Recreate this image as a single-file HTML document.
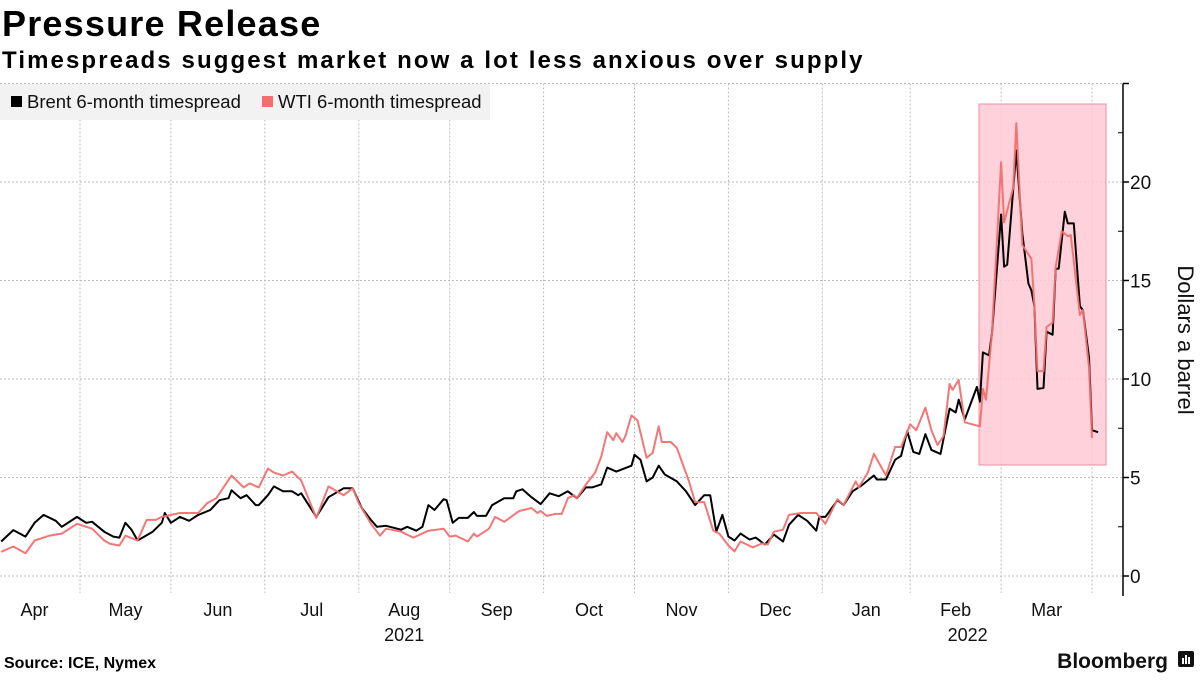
<!DOCTYPE html>
<html><head><meta charset="utf-8"><style>
body{margin:0;width:1200px;height:675px;background:#fff;overflow:hidden;font-family:"Liberation Sans",sans-serif;}
svg text{font-family:"Liberation Sans",sans-serif;}
</style></head><body>
<svg id="chart" width="1200" height="675" viewBox="0 0 1200 675" xmlns="http://www.w3.org/2000/svg">
<text x="2" y="36" font-size="36" font-weight="bold" fill="#000" letter-spacing="1.2">Pressure Release</text>
<text x="2" y="68" font-size="24" font-weight="bold" fill="#000" letter-spacing="2.1">Timespreads suggest market now a lot less anxious over supply</text>
<g id="grid"></g>
<rect x="979" y="104" width="127" height="361" fill="#ffc9d3" fill-opacity="0.85" stroke="#e8909e" stroke-width="1"/>
<g id="series"></g>
<g id="axes"></g>
<g>
<rect x="0" y="84" width="490" height="36" fill="#f2f2f2"/>
<rect x="11" y="96" width="11" height="11" fill="#000"/>
<text x="27" y="108" font-size="18.5" fill="#111">Brent 6-month timespread</text>
<rect x="262" y="96" width="11" height="11" fill="#f36f6f"/>
<text x="278" y="108" font-size="18.5" fill="#111">WTI 6-month timespread</text>
</g>
<text transform="translate(1178,340) rotate(90)" text-anchor="middle" font-size="22" fill="#111">Dollars a barrel</text>
<text x="4" y="668" font-size="16" font-weight="bold" fill="#000">Source: ICE, Nymex</text>
<text x="1168" y="668" text-anchor="end" font-size="21" font-weight="bold" fill="#111">Bloomberg</text>
<g>
<rect x="1178" y="651" width="16" height="16" rx="2" fill="#111"/>
<rect x="1182" y="658" width="2" height="6" fill="#fff"/><rect x="1185" y="655" width="2" height="9" fill="#fff"/><rect x="1188" y="657" width="2" height="7" fill="#fff"/>
</g>
</svg>
<script>
// days since 2021-05-01
const brentDays=[-26,-22,-18,-15,-12,-8,-6,-1,2,4,8,11,13,15,17,19,24,27,28,30,33,36,39,43,46,49,50,53,55,58,59,62,64,67,70,72,73,78,82,87,90,93,96,98,101,106,108,111,113,115,117,120,121,123,125,128,130,131,134,136,140,143,144,146,149,152,155,158,161,164,167,169,172,174,177,182,183,185,187,189,191,193,197,200,203,206,208,210,212,214,216,218,221,223,226,229,232,234,237,240,243,244,246,250,252,255,258,262,263,266,269,271,273,275,277,279,281,284,287,289,290,292,296,297,298,300,301,304,305,306,309,311,313,314,315,316,318,319,321,322,323,325,326,328,330,331,333,334,336];
const brentValues=[1.75,2.33,2.0,2.7,3.1,2.8,2.5,3.0,2.7,2.75,2.25,2.0,1.95,2.7,2.35,1.8,2.25,2.7,3.2,2.7,3.0,2.8,3.1,3.35,3.85,3.95,4.35,3.95,4.1,3.6,3.6,4.1,4.55,4.3,4.3,4.1,4.2,3.0,4.0,4.45,4.45,3.45,2.85,2.5,2.55,2.35,2.5,2.3,2.5,3.6,3.35,3.9,3.85,2.7,2.95,2.95,3.25,3.05,3.05,3.6,3.95,3.95,4.3,4.4,4.0,3.65,4.2,4.05,4.3,3.95,4.5,4.5,4.65,5.5,5.3,5.6,6.15,5.9,4.8,5.0,5.6,5.15,4.8,4.3,3.6,4.1,4.1,2.25,3.1,2.0,1.8,2.15,1.85,1.95,1.6,2.1,1.75,2.6,3.1,2.8,2.3,3.0,3.0,3.85,3.6,4.3,4.6,5.1,4.9,4.9,5.9,6.1,7.35,6.3,6.2,7.2,6.4,6.2,8.5,8.3,8.95,7.95,9.6,8.85,11.35,11.2,12.35,18.35,15.7,15.8,21.6,17.4,14.85,14.5,13.7,9.5,9.55,12.4,12.25,15.6,15.6,18.5,17.9,17.9,13.7,13.5,11.1,7.4,7.3];
const wtiDays=[-26,-22,-18,-15,-10,-6,-1,4,8,10,13,15,19,22,25,27,33,39,42,45,50,54,56,59,62,64,67,70,73,78,82,87,90,92,96,99,101,106,110,115,120,122,124,128,130,131,135,137,140,145,149,151,152,154,157,159,161,163,164,167,170,172,174,176,177,179,180,182,184,187,189,191,192,195,197,201,203,206,209,211,214,216,218,222,225,227,229,232,234,238,243,246,250,252,256,257,260,262,266,269,271,274,276,279,281,283,285,287,288,290,292,297,298,299,301,304,305,308,309,311,314,315,316,318,319,321,322,324,326,327,330,331,333,334];
const wtiValues=[1.23,1.5,1.15,1.8,2.05,2.15,2.65,2.4,1.8,1.63,1.55,2.05,1.8,2.85,2.85,3.0,3.2,3.2,3.7,3.95,5.1,4.5,4.7,4.5,5.45,5.25,5.1,5.3,4.85,2.95,4.55,4.1,4.45,3.7,2.65,2.05,2.4,2.25,1.95,2.3,2.4,2.0,2.05,1.75,2.15,2.0,2.4,3.0,2.75,3.3,3.45,3.2,3.3,3.05,3.15,3.15,3.95,4.1,3.95,4.65,5.25,6.05,7.3,6.9,7.25,6.8,7.1,8.15,7.9,6.0,6.25,7.6,6.8,6.8,6.5,4.8,3.75,3.75,2.3,2.15,1.55,1.25,1.75,1.45,1.65,1.6,2.25,2.35,3.1,3.2,3.2,2.65,3.9,3.6,4.8,4.5,5.25,6.2,5.1,6.55,6.55,7.7,7.4,8.55,7.4,6.65,7.1,9.75,9.45,9.95,7.8,7.6,9.5,8.95,12.35,21.0,17.95,19.7,22.98,16.8,16.1,13.7,10.4,10.4,12.65,12.85,15.7,17.5,17.25,17.3,13.25,13.5,10.6,7.0];
const yTicks=[0,5,10,15,20,25];
const yTickLabels=["0","5","10","15","20",""];
const monthLabels=["Apr","May","Jun","Jul","Aug","Sep","Oct","Nov","Dec","Jan","Feb","Mar"];
const monthStartDays=[-30,0,30,61,92,122,153,183,214,245,274,304,334];
const yearLabels=["2021","2022"];
const yearMonthIdx=[4,10];

const NS="http://www.w3.org/2000/svg";
const X=d=>80+d*3.03;
const Y=v=>576-v*19.7;
const AX=1123;
function mk(tag,attrs,parent){const e=document.createElementNS(NS,tag);for(const k in attrs)e.setAttribute(k,attrs[k]);parent.appendChild(e);return e;}
const grid=document.getElementById('grid'),axes=document.getElementById('axes'),series=document.getElementById('series');
yTicks.forEach((t,i)=>{
  const l=mk('line',{x1:0,x2:AX,y1:Y(t),y2:Y(t),stroke:'#bbb','stroke-width':1,'stroke-dasharray':'2,2'},grid);
  
  
  const tk=mk('line',{x1:AX,x2:AX+6,y1:Y(t),y2:Y(t),stroke:'#000','stroke-width':1.5},axes);
  
  
  if(i<yTicks.length-1){const m=mk('line',{x1:AX-5,x2:AX,y1:Y(t+2.5),y2:Y(t+2.5),stroke:'#000','stroke-width':1},axes);
  
  }
  if(yTickLabels[i]){const tx=mk('text',{x:AX+7,y:Y(t)+7,'font-size':19,fill:'#111'},axes);tx.textContent=yTickLabels[i];
  
  }
});
const ax=mk('line',{x1:AX,x2:AX,y1:Y(25),y2:596,stroke:'#000','stroke-width':1.5},axes);


monthStartDays.forEach((d,i)=>{
  if(X(d)>0){const g=mk('line',{x1:X(d),x2:X(d),y1:Y(25),y2:593,stroke:'#bbb','stroke-width':1,'stroke-dasharray':'2,2'},grid);
  
  }
  if(i<monthLabels.length){const tx=mk('text',{x:X((d+monthStartDays[i+1])/2),y:616,'text-anchor':'middle','font-size':18,fill:'#111'},axes);tx.textContent=monthLabels[i];
  
  }
});
yearLabels.forEach((y,i)=>{const k=yearMonthIdx[i];const tx=mk('text',{x:X((monthStartDays[k]+monthStartDays[k+1])/2)+(i?12:0),y:641,'text-anchor':'middle','font-size':18,fill:'#111'},axes);tx.textContent=y;
  
  });
function line(days,vals,color,name,op){const p=mk('polyline',{points:days.map((d,i)=>X(d).toFixed(1)+','+Y(vals[i]).toFixed(1)).join(' '),fill:'none',stroke:color,'stroke-width':2,'stroke-linejoin':'round','stroke-opacity':op},series);
  
  }
line(brentDays,brentValues,'#000','brent-line',1);
line(wtiDays,wtiValues,'#f36f6f','wti-line',0.95);
</script>
</body></html>
